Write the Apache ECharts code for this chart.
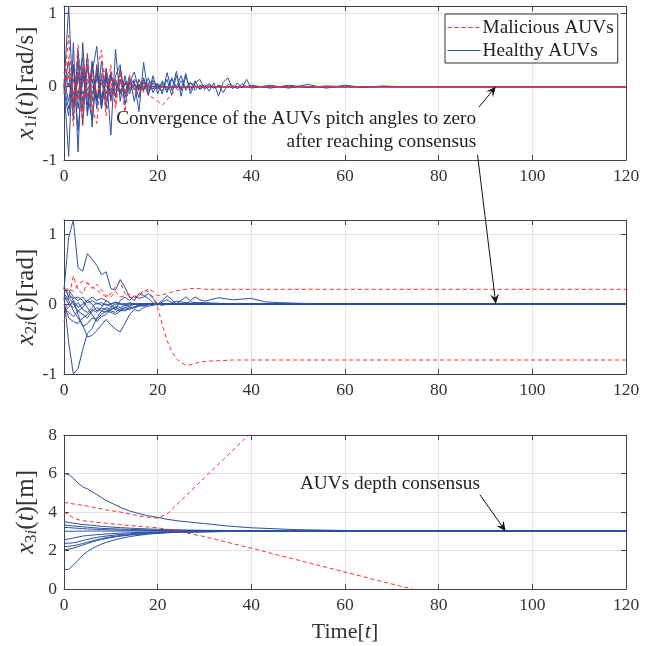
<!DOCTYPE html>
<html>
<head>
<meta charset="utf-8">
<script src="https://cdn.jsdelivr.net/npm/echarts@6/dist/echarts.min.js"></script>
<style>
  html, body { margin: 0; padding: 0; background: #fff; }
  #chart { width: 667px; height: 646px; }
</style>
</head>
<body>
<div id="chart"></div>
<script>
// time stamps
const tEnd = 120;
const t1 = [0,1,2,3,4,5,6,7,8,9,10,11,12,13,14,15,16,17,18,19,20,21,22,23,24,25,26,27,28,29,30,
  31,32,33,34,35,36,37,38,39,40,44,48,52,56,60,64,68,72];
const t2 = [0,1,2,3,4,5,6,7,8,9,10,11,12,13,14,15,16,17,18,19,20,21,22,23,24,25,26,27,28,29,30,
  33,36,40,43,46,50,60];
const t3 = [0,1,2,3,4,5,6,7,8,9,10,12,14,16,18,20,22,25,30,35,40,50,60,70,80];

// x1: pitch rate, healthy
const x1Healthy = [
  [0, 1.1, -0.3, 0.35, -0.5, 0.3, -0.2, 0.25, -0.15, 0.12, -0.1, 0.08, -0.05, 0.04, -0.03, 0.02, -0.02, 0.01, 0],
  [0, -0.95, 0.6, -0.89, 0.6, -0.4, 0.3, -0.3, 0.35, -0.2, 0.15, -0.12, 0.1, -0.08, 0.05, -0.04, 0.03, -0.02, 0.01, 0],
  [0, 0.35, -0.45, 0.5, -0.3, 0.45, -0.55, 0.3, -0.25, 0.2, -0.66, 0.51, -0.2, 0.15, -0.1, 0.08, -0.34, 0.33, -0.1, 0.05, -0.03, 0.02, 0],
  [0.1, -0.2, 0.25, -0.3, 0.2, -0.25, 0.35, -0.2, 0.15, -0.3, 0.2, -0.15, 0.25, -0.1, 0.15, -0.2, 0.1, -0.05, 0.12, -0.08,
    0.05, -0.1, 0.19, -0.05, 0.21, -0.13, 0.15, -0.05, 0.08, -0.04, 0.03, -0.06, 0.05, -0.13, 0.06, 0.12, -0.03, 0.05, -0.02, 0.1,
    -0.02, 0.02, -0.02, 0.03, -0.02, 0.02, -0.01, 0.01, 0],
  [0, 0.15, -0.25, 0.1, 0.4, -0.35, 0.2, 0.55, -0.3, 0.25, -0.2, 0.15, 0.3, -0.25, 0.1, 0.05, -0.15, 0.12, -0.05, 0.08,
    0.02, -0.06, 0.1, -0.12, 0.15, -0.05, 0.18, -0.1, 0.05, 0.1, -0.04, 0.03, -0.02, 0.02, 0],
  [-0.05, -0.4, 0.3, -0.6, 0.15, -0.1, -0.45, 0.2, -0.3, 0.1, -0.15, 0.05, -0.1, 0.03, 0.06, -0.04, 0.02, 0],
  [0.05, 0.2, 0.1, -0.15, 0.05, 0.25, -0.1, 0.1, 0.05, -0.1, 0.15, 0.02, -0.08, 0.05, 0, 0.1, 0.02, -0.05, 0.05, 0.08,
    0, 0.05, -0.08, 0.1, 0, 0.15, -0.05, 0.05, 0.02, -0.03, 0, 0.04, -0.02, 0.02, -0.08, 0.03, 0.02, -0.03, 0.04, 0,
    0.02, -0.02, 0.02, -0.01, 0.01, 0],
  [-0.1, 0.05, -0.2, 0.15, -0.1, 0.05, 0.1, -0.15, 0.05, 0.1, -0.05, -0.1, 0.05, 0.08, -0.05, 0.03, 0, -0.02, 0.03, 0, -0.02, 0],
  [0, -0.3, -0.1, 0.2, -0.2, 0.1, 0, -0.1, -0.2, 0.15, 0.05, -0.05, 0.1, -0.15, 0.05, 0.2, -0.05, 0.1, -0.12, 0.15,
    -0.1, 0.08, -0.05, 0.12, -0.03, 0.08, -0.02, 0.06, -0.05, 0.02, 0],
  [0.2, 0, 0.1, -0.1, 0.25, -0.05, 0.1, -0.2, 0.1, 0, -0.05, 0.1, -0.08, 0.05, -0.02, 0.03, -0.05, 0.06, 0, -0.03, 0.02, 0]
];
// x1: malicious
const x1Malicious = [
  [0, 0.7, -0.3, 0.57, -0.4, 0.3, -0.35, 0.2, 0.5, -0.2, 0.3, -0.25, 0.2, -0.1, 0.15, -0.05, 0.1, -0.08, 0.05, 0, -0.05, 0],
  [0, 0.4, -0.54, 0.2, -0.55, 0.45, -0.3, -0.5, 0.2, -0.4, 0.1, -0.3, 0.2, -0.35, 0.05, 0, -0.1, 0.05, -0.12, -0.15, -0.2, -0.25, -0.18, -0.1, -0.05, -0.02, 0],
  [-0.1, 0.2, 0.1, -0.2, 0.3, -0.15, 0.2, -0.1, 0.1, 0.25, -0.1, 0.1, -0.05, 0.05, 0.08, 0, -0.05, 0.05, 0, -0.02, 0]
];

// x2: pitch angle
const x2Healthy = [
  [0.2, 0.95, 1.2, 0.52, 0.47, 0.72, 0.64, 0.55, 0.42, 0.46, 0.22, 0.2, 0.35, 0.24, 0.1, 0.05, 0.15, 0.12, 0.08, 0.02, -0.02, 0.03, 0.06, 0.02, 0.04, 0.03, 0.02, 0.03, 0.02, 0.02, 0.02, 0.01, 0],
  [0.1, -0.55, -1.0, -0.92, -0.65, -0.42, -0.35, -0.2, -0.1, -0.12, -0.05, -0.08, -0.1, -0.05, -0.03, 0, -0.02, -0.01, 0],
  [0.15, 0.05, -0.1, -0.2, -0.3, -0.47, -0.45, -0.38, -0.3, -0.22, -0.3, -0.36, -0.4, -0.28, -0.15, -0.08, -0.1, -0.05, -0.03, -0.02, 0, -0.02, 0],
  [0.25, 0.1, 0, -0.1, -0.05, 0.05, 0, -0.1, -0.05, 0.05, 0, -0.08, 0.05, 0.1, 0.05, 0.12, 0.08, 0.1, 0.15, 0.08, 0, 0.05, 0.12, 0.06, 0, 0.05, 0.1, 0.05, 0.1, 0.06, 0.04, 0.09, 0.06, 0.08, 0.03, 0.02, 0.01, 0],
  [0.22, 0.15, 0.05, -0.05, 0, 0.05, 0.1, 0.05, 0.08, 0.05, 0, 0.03, 0, -0.02, 0.02, 0],
  [-0.1, -0.05, 0.05, -0.15, -0.32, -0.28, -0.2, -0.22, -0.15, -0.1, -0.12, -0.15, -0.1, -0.08, -0.05, -0.06, -0.03, -0.02, -0.01, 0],
  [0.05, 0.12, 0.08, 0.1, 0.05, -0.05, -0.15, -0.25, -0.18, -0.15, -0.08, -0.05, -0.08, -0.1, -0.06, -0.04, -0.02, -0.03, -0.01, 0],
  [-0.05, -0.12, -0.18, -0.1, -0.15, -0.2, -0.1, -0.05, -0.1, -0.05, -0.08, -0.03, -0.05, -0.02, -0.03, 0],
  [0.18, 0.2, 0.1, 0.05, 0.1, 0.02, 0.05, 0, 0.02, -0.02, 0, 0.02, 0],
  [0, -0.2, -0.25, -0.28, -0.2, -0.15, -0.08, -0.12, -0.06, -0.08, -0.1, -0.12, -0.07, -0.05, -0.08, -0.04, -0.02, 0],
  [0.12, 0, -0.05, 0.02, -0.08, -0.12, -0.05, 0.02, -0.02, 0, -0.04, 0]
];
const x2Malicious = [
  [-0.25, 0.1, 0.4, 0.2, 0.15, 0.3, 0.25, 0.2, 0.15, 0.1, 0.15, 0.25, 0.32, 0.15, 0.1, 0.08, 0.12, 0.2, 0.18, 0.1,
    -0.05, -0.3, -0.52, -0.68, -0.78, -0.84, -0.87, -0.87, -0.85, -0.83, -0.82, -0.81, -0.8],
  [0.2, 0.22, 0.18, 0.28, 0.33, 0.3, 0.22, 0.28, 0.2, 0.12, 0.1, 0.18, 0.1, 0.12, 0.14, 0.1, 0.12, 0.16, 0.22, 0.18,
    0.12, 0.13, 0.15, 0.17, 0.19, 0.2, 0.21, 0.22, 0.22, 0.22, 0.21]
];

// x3: depth
const x3Healthy = [
  [6.0, 5.95, 5.75, 5.5, 5.3, 5.2, 5.05, 4.9, 4.75, 4.6, 4.48, 4.25, 4.05, 3.92, 3.8, 3.72, 3.62, 3.52, 3.4, 3.27, 3.18, 3.08, 3.04, 3.02, 3.01],
  [3.5, 3.46, 3.42, 3.38, 3.35, 3.33, 3.31, 3.28, 3.26, 3.24, 3.22, 3.19, 3.16, 3.14, 3.12, 3.1, 3.09, 3.07, 3.05, 3.04, 3.03, 3.02, 3.01, 3.01],
  [3.33, 3.3, 3.27, 3.25, 3.23, 3.21, 3.19, 3.17, 3.15, 3.14, 3.13, 3.11, 3.1, 3.08, 3.07, 3.06, 3.05, 3.04, 3.03, 3.02, 3.02, 3.01],
  [3.2, 3.19, 3.17, 3.15, 3.14, 3.12, 3.11, 3.1, 3.09, 3.08, 3.07, 3.06, 3.05, 3.05, 3.04, 3.04, 3.03, 3.03, 3.02, 3.02, 3.01],
  [3.0, 3.0, 3.0, 3.01, 3.01, 3.01, 3.01, 3.01, 3.01, 3.01, 3.01],
  [2.55, 2.6, 2.65, 2.7, 2.75, 2.78, 2.8, 2.82, 2.84, 2.86, 2.87, 2.9, 2.92, 2.94, 2.95, 2.96, 2.97, 2.98, 2.99, 3.0, 3.01],
  [2.37, 2.38, 2.4, 2.45, 2.52, 2.58, 2.63, 2.68, 2.72, 2.75, 2.78, 2.83, 2.87, 2.9, 2.92, 2.94, 2.96, 2.97, 2.99, 3.0, 3.01],
  [2.2, 2.22, 2.25, 2.3, 2.36, 2.43, 2.5, 2.56, 2.62, 2.67, 2.71, 2.78, 2.83, 2.87, 2.9, 2.92, 2.94, 2.96, 2.98, 2.99, 3.0, 3.01],
  [2.03, 2.07, 2.12, 2.2, 2.28, 2.36, 2.44, 2.51, 2.57, 2.62, 2.67, 2.74, 2.8, 2.84, 2.88, 2.9, 2.93, 2.95, 2.97, 2.99, 3.0, 3.01],
  [1.0, 1.02, 1.25, 1.5, 1.75, 1.95, 2.1, 2.22, 2.33, 2.42, 2.5, 2.62, 2.72, 2.79, 2.85, 2.89, 2.92, 2.95, 2.97, 2.99, 3.0, 3.01]
];
const x3Malicious = [
  [4.5, 4.46, 4.42, 4.38, 4.34, 4.31, 4.26, 4.21, 4.16, 4.11, 4.07, 4.0, 3.9, 3.8, 3.73, 3.68, 3.9, 4.6, 5.78, 6.96, 8.13, 10.5],
  [4.0, 3.85, 3.7, 3.6, 3.55, 3.52, 3.49, 3.46, 3.44, 3.42, 3.39, 3.35, 3.3, 3.26, 3.22, 3.18, 3.1, 2.97, 2.72, 2.42, 2.12, 1.5, 0.88, 0.26, -0.35]
];

// annotations, in data coordinates [t, value]
const note1Anchor = [88, -0.6];
const note3Anchor = [88.8, 5.45];
const arrows = [
  { from: [0, [88.6, -0.28]], to: [0, [92.2, 0]] },
  { from: [0, [88.3, -0.93]], to: [1, [92.2, 0]] },
  { from: [2, [88.8, 4.9]], to: [2, [94.3, 3.0]] }
];

const blue = '#2c51a3';
const red = '#ff2b2b';
const axisCol = '#444';
const font = 'Liberation Serif';

function build(times, vals) {
  const d = vals.map((v, i) => [times[i], v]);
  d.push([tEnd, vals[vals.length - 1]]);
  return d;
}

const series = [];
function addSet(gi, times, sets, name, color, dashed) {
  sets.forEach(vals => {
    series.push({
      name, type: 'line', xAxisIndex: gi, yAxisIndex: gi,
      data: build(times, vals), symbol: 'none', clip: true,
      lineStyle: { color, width: 1, type: dashed ? [4, 3] : 'solid' },
      itemStyle: { color }
    });
  });
}
addSet(0, t1, x1Healthy, 'Healthy AUVs', blue, false);
addSet(0, t1, x1Malicious, 'Malicious AUVs', red, true);
addSet(1, t2, x2Healthy, 'Healthy AUVs', blue, false);
addSet(1, t2, x2Malicious, 'Malicious AUVs', red, true);
addSet(2, t3, x3Healthy, 'Healthy AUVs', blue, false);
addSet(2, t3, x3Malicious, 'Malicious AUVs', red, true);

const gridTops = [6, 220, 435];
const yRanges = [[-1, 1.1, 1], [-1, 1.2, 1], [0, 8, 2]];
const yNames = [
  '{i|x}{s|1}{si|i}{n|(}{i|t}{n|)[rad/s]}',
  '{i|x}{s|2}{si|i}{n|(}{i|t}{n|)[rad]}',
  '{i|x}{s|3}{si|i}{n|(}{i|t}{n|)[m]}'
];
const rich = {
  i: { fontFamily: font, fontStyle: 'italic', fontSize: 22, lineHeight: 28, color: '#333' },
  n: { fontFamily: font, fontSize: 22, lineHeight: 28, color: '#333' },
  s: { fontFamily: font, fontSize: 15, lineHeight: 13, verticalAlign: 'bottom', color: '#333' },
  si: { fontFamily: font, fontStyle: 'italic', fontSize: 15, lineHeight: 13, verticalAlign: 'bottom', color: '#333' }
};
const richY = {
  i: Object.assign({}, rich.i, { fontSize: 25 }),
  n: Object.assign({}, rich.n, { fontSize: 25 }),
  s: Object.assign({}, rich.s, { fontSize: 17 }),
  si: Object.assign({}, rich.si, { fontSize: 17 })
};

const grid = gridTops.map(top => ({ left: 64, width: 562, top, height: 154, outerBoundsMode: 'none', containLabel: false }));
const xAxis = [], yAxis = [];
[0, 1, 2].forEach(i => {
  xAxis.push({
    type: 'value', gridIndex: i, min: 0, max: 120, interval: 20, position: 'bottom',
    axisLine: { onZero: false, lineStyle: { color: axisCol } },
    axisTick: { inside: true, length: 5, lineStyle: { color: axisCol } },
    axisLabel: { fontFamily: font, fontSize: 17.5, color: '#333', margin: 7 },
    splitLine: { lineStyle: { color: '#e4e4e4' } },
    name: i === 2 ? '{n|Time[}{i|t}{n|]}' : '', nameLocation: 'middle', nameGap: 29, nameMoveOverlap: false,
    nameTextStyle: { rich }
  });
  yAxis.push({
    type: 'value', gridIndex: i, min: yRanges[i][0], max: yRanges[i][1], interval: yRanges[i][2], position: 'left',
    axisLine: { onZero: false, lineStyle: { color: axisCol } },
    axisTick: { inside: true, length: 5, lineStyle: { color: axisCol } },
    axisLabel: { fontFamily: font, fontSize: 17.5, color: '#333', margin: 7, showMaxLabel: i === 2 },
    splitLine: { lineStyle: { color: '#e4e4e4' } },
    name: yNames[i], nameLocation: 'middle', nameGap: 24, nameRotate: 90, nameMoveOverlap: false,
    nameTextStyle: { rich: richY }
  });
});
[0, 1, 2].forEach(i => {
  xAxis.push({
    type: 'value', gridIndex: i, min: 0, max: 120, interval: 20, position: 'top',
    axisLine: { onZero: false, lineStyle: { color: axisCol } },
    axisTick: { inside: true, length: 5, lineStyle: { color: axisCol } },
    axisLabel: { show: false }, splitLine: { show: false }
  });
  yAxis.push({
    type: 'value', gridIndex: i, min: yRanges[i][0], max: yRanges[i][1], interval: yRanges[i][2], position: 'right',
    axisLine: { onZero: false, lineStyle: { color: axisCol } },
    axisTick: { inside: true, length: 5, lineStyle: { color: axisCol } },
    axisLabel: { show: false }, splitLine: { show: false }
  });
});

const chart = echarts.init(document.getElementById('chart'), null, { renderer: 'canvas' });
chart.setOption({
  animation: false,
  backgroundColor: '#fff',
  grid, xAxis, yAxis, series,
  legend: {
    data: [
      { name: 'Malicious AUVs', itemStyle: { opacity: 0 }, lineStyle: { color: red, width: 1, type: [4, 3] } },
      { name: 'Healthy AUVs', itemStyle: { opacity: 0 }, lineStyle: { color: blue, width: 1, type: 'solid' } }
    ],
    orient: 'vertical', left: 445, top: 14,
    backgroundColor: '#fff', borderColor: '#333', borderWidth: 1, borderRadius: 0,
    padding: [4, 4, 3, 2], itemGap: 4, itemWidth: 33, itemHeight: 16,
    textStyle: { fontFamily: font, fontSize: 19.3, color: '#222', padding: [0, 0, 0, -3] }
  }
});

// annotations placed via the axes' own scales
function px(gi, p) { return chart.convertToPixel({ gridIndex: gi }, p); }
const graphic = [];
arrows.forEach(a => {
  const p0 = px(a.from[0], a.from[1]);
  const p1 = px(a.to[0], a.to[1]);
  const dx = p1[0] - p0[0], dy = p1[1] - p0[1];
  const len = Math.hypot(dx, dy);
  const ux = dx / len, uy = dy / len, nx = -uy, ny = ux;
  const L = 10, W = 4.5;
  const back = [p1[0] - ux * L, p1[1] - uy * L];
  const notch = [p1[0] - ux * L * 0.6, p1[1] - uy * L * 0.6];
  graphic.push({
    type: 'line', z: 100, silent: true,
    shape: { x1: p0[0], y1: p0[1], x2: notch[0], y2: notch[1] },
    style: { stroke: '#111', lineWidth: 1 }
  });
  graphic.push({
    type: 'polygon', z: 100, silent: true,
    shape: { points: [p1, [back[0] + nx * W, back[1] + ny * W], notch, [back[0] - nx * W, back[1] - ny * W]] },
    style: { fill: '#111' }
  });
});
const n1 = px(0, note1Anchor);
graphic.push({
  type: 'text', z: 101, silent: true, x: n1[0], y: n1[1],
  style: {
    text: 'Convergence of the AUVs pitch angles to zero\nafter reaching consensus',
    font: '19.3px "Liberation Serif"', fill: '#222', align: 'right', verticalAlign: 'middle', lineHeight: 23
  }
});
const n3 = px(2, note3Anchor);
graphic.push({
  type: 'text', z: 101, silent: true, x: n3[0], y: n3[1],
  style: {
    text: 'AUVs depth consensus',
    font: '19.3px "Liberation Serif"', fill: '#222', align: 'right', verticalAlign: 'middle'
  }
});
chart.setOption({ graphic });
</script>
</body>
</html>
